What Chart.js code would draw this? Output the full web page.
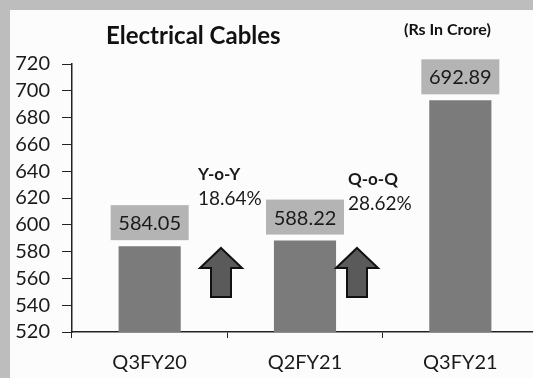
<!DOCTYPE html>
<html>
<head>
<meta charset="utf-8">
<title>Electrical Cables</title>
<script src="https://cdn.jsdelivr.net/npm/chart.js@4"></script>
<style>
  html, body { margin: 0; padding: 0; overflow: hidden; }
  body { width: 533px; height: 378px; background: #bdbdbd; position: relative; }
  #panel { position: absolute; left: 10px; top: 10px; right: 0; bottom: 0; background: #fcfcfc; }
  #cablesChart { position: absolute; left: 0; top: 0; }
</style>
</head>
<body>
<div id="panel"></div>
<canvas id="cablesChart" width="540" height="378"></canvas>
<script>
// Quarterly revenue, Rs in crore
const quarters = ["Q3FY20", "Q2FY21", "Q3FY21"];
const revenue = [584.05, 588.22, 692.89];
const growthNames = ["Y-o-Y", "Q-o-Q"];
const growthValues = ["18.64%", "28.62%"];
const yMin = 520;
const yMax = 720;
const yStep = 20;

const FONT = "Lato, 'Open Sans', sans-serif";
const INK = "#1a1a1a";

// draws a block arrow pointing up
function upArrow(ctx, cx, top, bottom, headW, shaftW, headH) {
  ctx.beginPath();
  ctx.moveTo(cx, top);
  ctx.lineTo(cx + headW / 2, top + headH);
  ctx.lineTo(cx + shaftW / 2, top + headH);
  ctx.lineTo(cx + shaftW / 2, bottom);
  ctx.lineTo(cx - shaftW / 2, bottom);
  ctx.lineTo(cx - shaftW / 2, top + headH);
  ctx.lineTo(cx - headW / 2, top + headH);
  ctx.closePath();
  ctx.fillStyle = "#5a5a5a";
  ctx.fill();
  ctx.lineWidth = 2;
  ctx.strokeStyle = "#111";
  ctx.stroke();
}

const decorations = {
  id: "decorations",
  afterDatasetsDraw(chart) {
    const ctx = chart.ctx;
    const bars = chart.getDatasetMeta(0).data;
    ctx.save();

    // value boxes above each bar
    bars.forEach((bar, i) => {
      const boxW = 78, boxH = 35, gap = 6;
      const top = bar.y - gap - boxH;
      ctx.fillStyle = "#b4b4b4";
      ctx.fillRect(bar.x - boxW / 2, top, boxW, boxH);
      ctx.fillStyle = INK;
      ctx.font = "20px " + FONT;
      ctx.textAlign = "center";
      ctx.textBaseline = "middle";
      ctx.fillText(revenue[i].toFixed(2), bar.x, top + boxH / 2 + 1);
    });

    // growth notes and arrows between bars
    const notes = [
      { x: 198, y: 175, ax: 221 },
      { x: 348, y: 180, ax: 357 },
    ];
    notes.forEach((n, i) => {
      ctx.fillStyle = INK;
      ctx.textAlign = "left";
      ctx.textBaseline = "middle";
      ctx.font = "bold 17px " + FONT;
      ctx.fillText(growthNames[i], n.x, n.y);
      ctx.font = "19px " + FONT;
      ctx.fillText(growthValues[i], n.x, n.y + 24);
      upArrow(ctx, n.ax, 248, 297, 42, 20, 20);
    });

    // heading and unit
    ctx.fillStyle = "#111";
    ctx.textAlign = "left";
    ctx.textBaseline = "middle";
    ctx.font = "bold 24px " + FONT;
    ctx.fillText("Electrical Cables", 106, 36);
    ctx.font = "bold 16px " + FONT;
    ctx.fillText("(Rs In Crore)", 404, 30);

    ctx.restore();
  },
};

new Chart(document.getElementById("cablesChart"), {
  type: "bar",
  data: {
    labels: quarters,
    datasets: [
      {
        data: revenue,
        backgroundColor: "#7b7b7b",
        categoryPercentage: 1,
        barPercentage: 0.4,
      },
    ],
  },
  options: {
    responsive: false,
    animation: false,
    layout: { padding: { top: 64, right: 2, left: 0, bottom: 0 } },
    plugins: {
      legend: { display: false },
      tooltip: { enabled: false },
    },
    scales: {
      x: {
        grid: { drawOnChartArea: false, tickLength: 6, color: "#222", offset: true },
        border: { color: "#222", width: 1.5 },
        ticks: { color: INK, font: { family: FONT, size: 20 }, padding: 13, maxRotation: 0 },
        afterFit(scale) {
          scale.height = 46;
          scale.paddingLeft = 0;
          scale.paddingRight = 0;
        },
      },
      y: {
        min: yMin,
        max: yMax,
        grid: { drawOnChartArea: false, tickLength: 10, color: "#222" },
        border: { color: "#222", width: 1.5 },
        ticks: {
          stepSize: yStep,
          autoSkip: false,
          color: INK,
          font: { family: FONT, size: 20 },
          padding: 12,
        },
        afterFit(scale) {
          scale.width = 72;
          scale.paddingTop = 0;
          scale.paddingBottom = 0;
        },
      },
    },
  },
  plugins: [decorations],
});
</script>
</body>
</html>
